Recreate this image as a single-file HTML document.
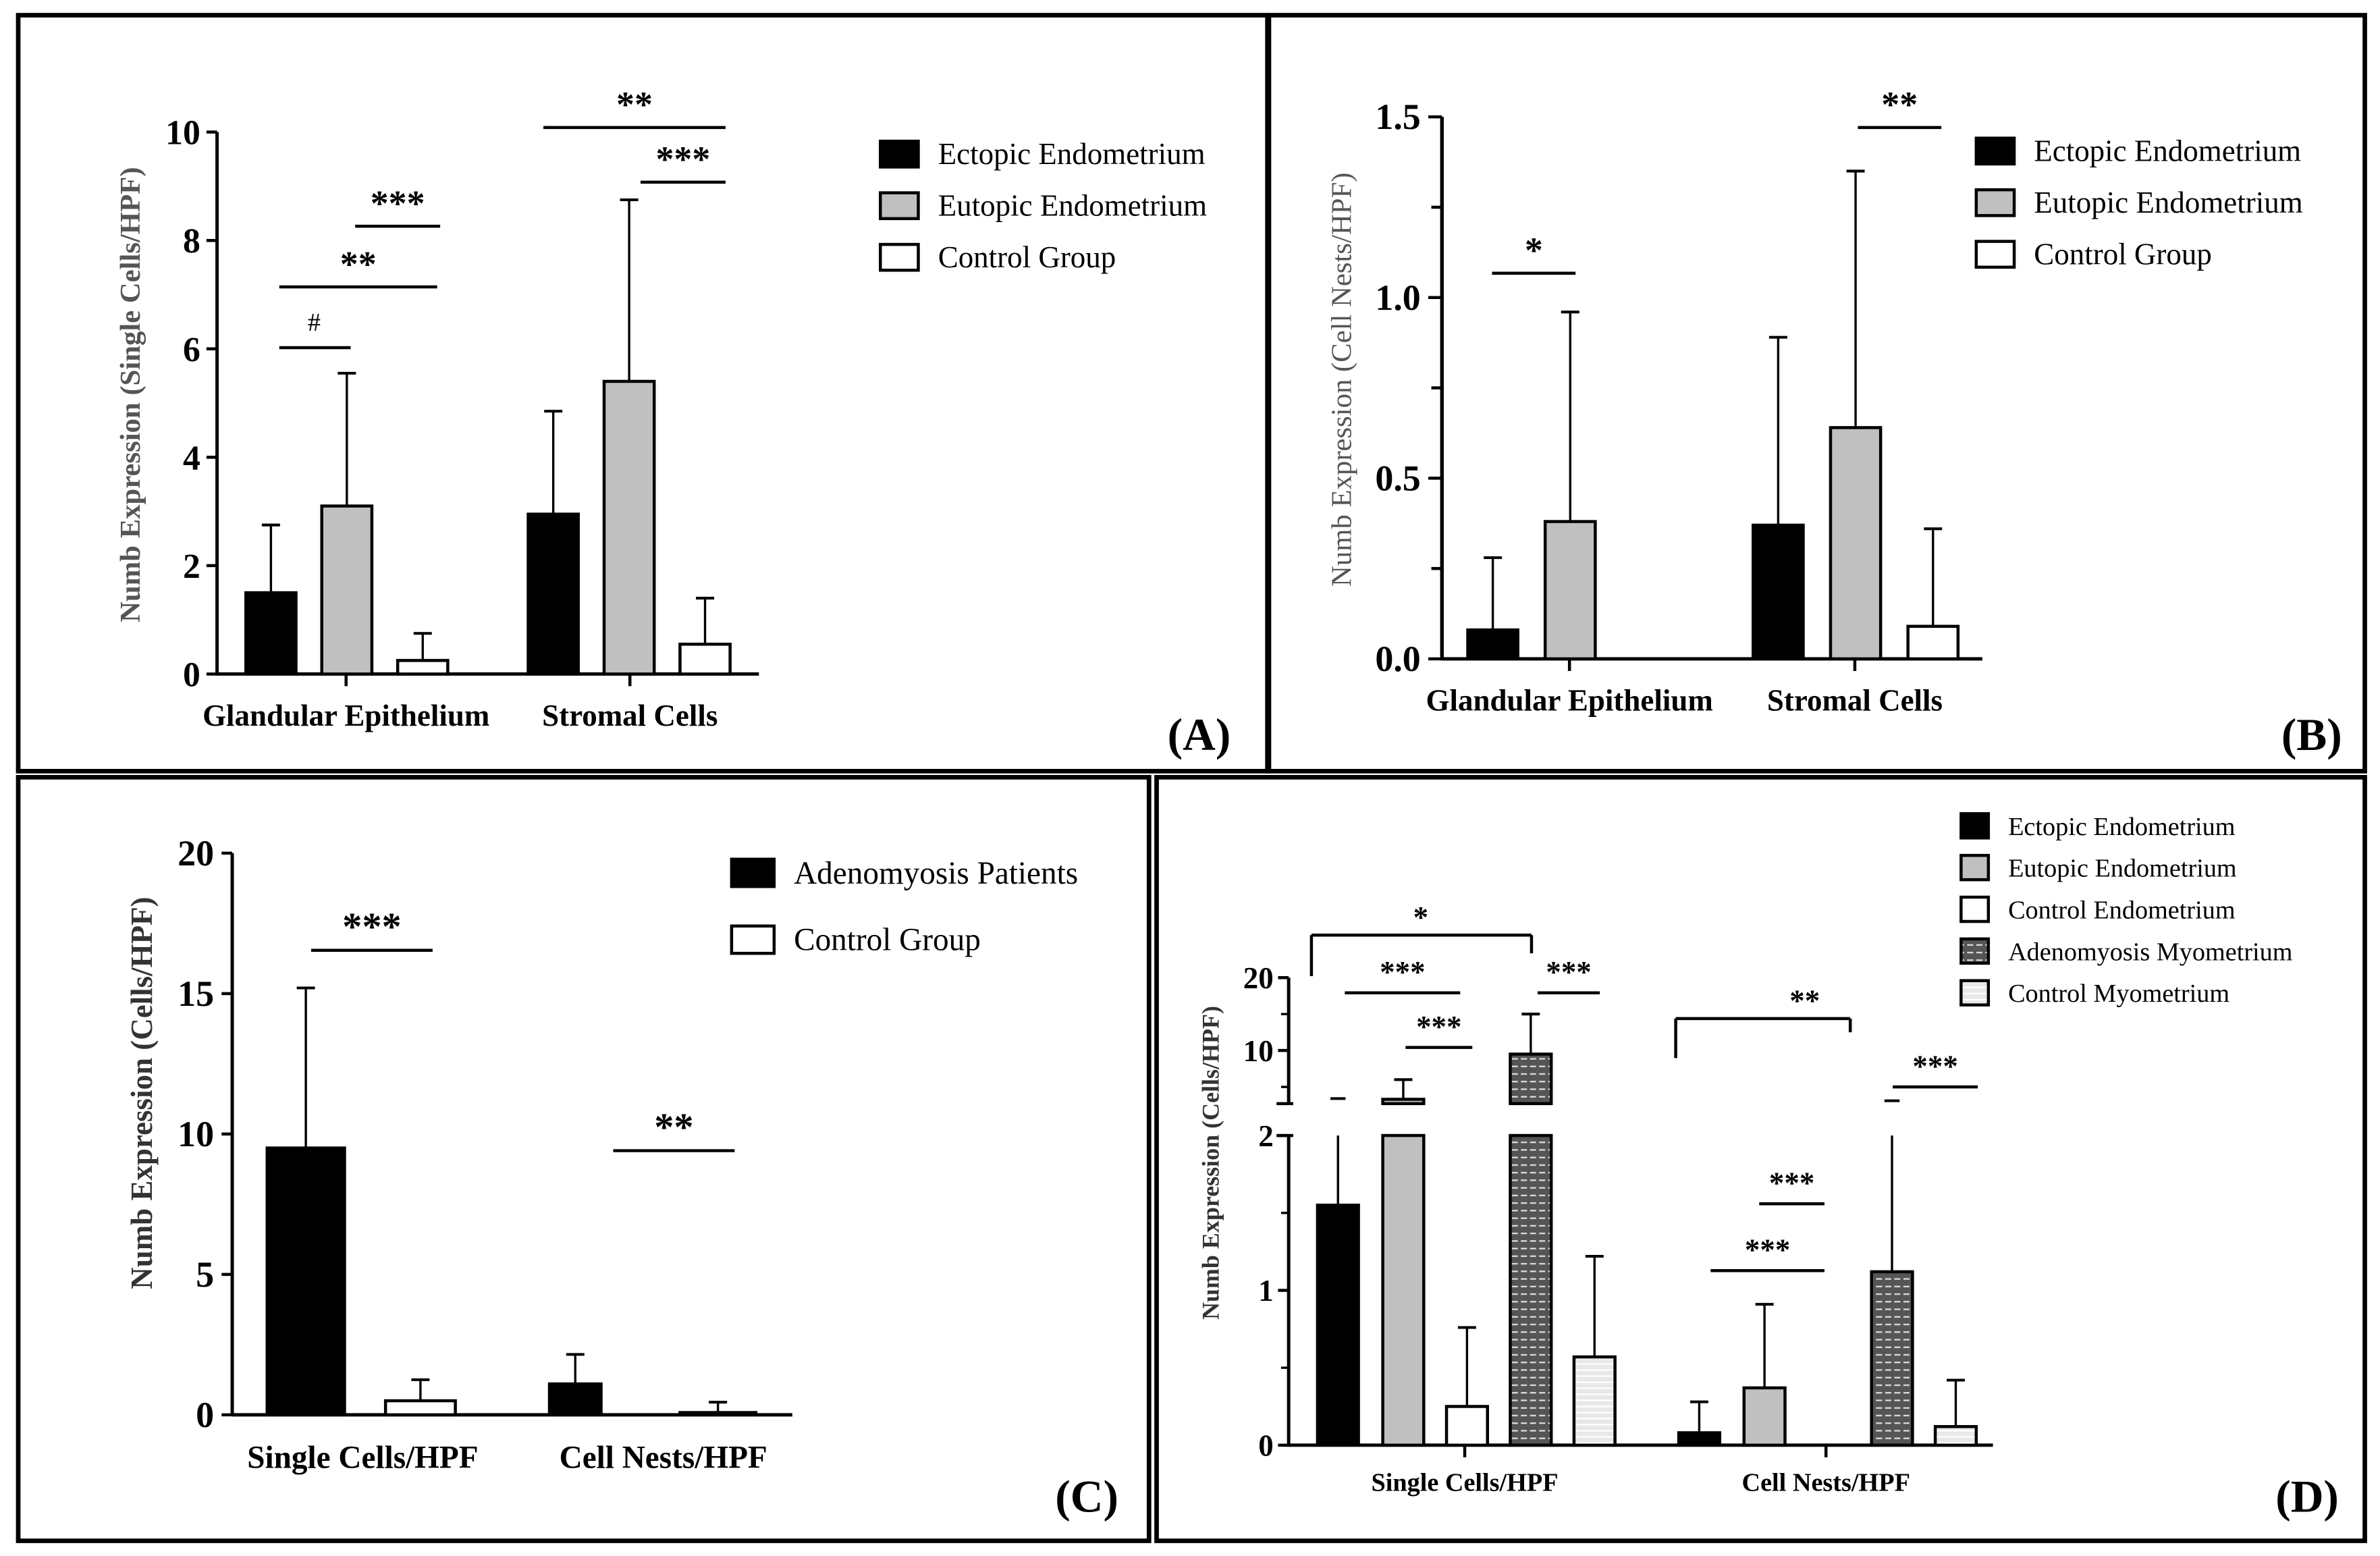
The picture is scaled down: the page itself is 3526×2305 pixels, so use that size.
<!DOCTYPE html>
<html><head><meta charset="utf-8"><style>
html,body{margin:0;padding:0;background:#fff;}
svg{display:block;}
svg text{font-family:"Liberation Serif","DejaVu Serif",serif;}
</style></head><body>
<svg id="fig" width="3526" height="2305" viewBox="0 0 1568 1025" xmlns="http://www.w3.org/2000/svg">
<defs>
<pattern id="patAdeno" width="6" height="5" patternUnits="userSpaceOnUse"><rect width="6" height="5" fill="#555"/><rect x="0" y="2" width="4" height="1" fill="#ddd"/></pattern>
<pattern id="patCtrlMyo" width="6" height="4" patternUnits="userSpaceOnUse"><rect width="6" height="4" fill="#e8e8e8"/><rect x="0" y="2" width="6" height="1" fill="#fff"/></pattern>
</defs>
<g id="root"></g>
</svg>
<script>
// Panel A data
const catsA = ["Glandular Epithelium","Stromal Cells"];
const ectopicA = [1.5, 2.95];
const eutopicA = [3.1, 5.4];
const controlA = [0.25, 0.55];
const ectopicErrA = [2.75, 4.85];
const eutopicErrA = [5.55, 8.75];
const controlErrA = [0.75, 1.4];
const ticksA = [0,2,4,6,8,10];
// Panel B data
const catsB = ["Glandular Epithelium","Stromal Cells"];
const ectopicB = [0.08, 0.37];
const eutopicB = [0.38, 0.64];
const controlB = [0, 0.09];
const ectopicErrB = [0.28, 0.89];
const eutopicErrB = [0.96, 1.35];
const controlErrB = [0, 0.36];
const ticksB = ["0.0","0.5","1.0","1.5"];
// Panel C data
const catsC = ["Single Cells/HPF","Cell Nests/HPF"];
const adenoC = [9.5, 1.1];
const controlC = [0.5, 0.08];
const adenoErrC = [15.2, 2.15];
const controlErrC = [1.25, 0.45];
const ticksC = [0,5,10,15,20];
// Panel D data
const catsD = ["Single Cells/HPF","Cell Nests/HPF"];
const ectopicD = [1.55, 0.08];
const eutopicD = [3.3, 0.37];
const controlEndoD = [0.25, 0];
const adenoMyoD = [9.5, 1.12];
const controlMyoD = [0.57, 0.12];
const ectopicErrD = [3.4, 0.28];
const eutopicErrD = [6, 0.91];
const controlEndoErrD = [0.76, 0];
const adenoMyoErrD = [15, 3.1];
const controlMyoErrD = [1.22, 0.42];
const ticksDLow = [0,1,2];
const ticksDHigh = [10,20];

const NS = "http://www.w3.org/2000/svg";
const FONT = '"Liberation Serif", "DejaVu Serif", serif';
const root = document.getElementById("root");
function el(tag, attrs, parent, txt){
  const e = document.createElementNS(NS, tag);
  for (const k in attrs) e.setAttribute(k, attrs[k]);
  if (txt !== undefined) e.textContent = txt;
  (parent || root).appendChild(e);
  return e;
}
function line(x1,y1,x2,y2,w,name){
  const l = el("line",{x1,y1,x2,y2,stroke:"#000","stroke-width":w||1.6});
  
  
  return l;
}
function txt(x,y,s,size,opts){
  opts = opts||{};
  const t = el("text",{x,y,"font-size":size,"font-weight":opts.bold?"bold":"normal","text-anchor":opts.anchor||"start",fill:opts.fill||"#000"}, null, s);
  t.style.fontFamily = FONT;
  if (opts.rot) t.setAttribute("transform","rotate(-90 "+x+" "+y+")");
  
  
  return t;
}
function bar(x,w,yTop,yBase,fill,name){
  const r = el("rect",{x,y:Math.min(yTop,yBase),width:w,height:Math.abs(yBase-yTop),fill,stroke:"#000","stroke-width":2});
  
  
}
function err(cx,yTop,yEnd,name){
  line(cx,yTop,cx,yEnd,1.5,name);
  line(cx-6,yEnd,cx+6,yEnd,1.8,name+'-cap');
}
function sig(x1,x2,y,label,size){
  line(x1,y,x2,y,2,'significance-line');
  txt((x1+x2)/2,y-7,label,size||22,{bold:true,anchor:"middle",name:'significance-label'});
}
function legend(x,y0,dy,sw,sh,fills,names,size){
  fills.forEach((f,i)=>{
    const r = el("rect",{x,y:y0+i*dy,width:sw,height:sh,fill:f,stroke:"#000","stroke-width":2});
    
    
    txt(x+sw+13,y0+i*dy+sh-2,names[i],size,{name:'legend-entry'});
  });
}
function border(x,y,w,h,name){
  const r = el("rect",{x,y,width:w,height:h,fill:"none",stroke:"#000","stroke-width":3});
  
  
}

border(12,10,823,498,'panel-a-border');
border(836,10,722,498,'panel-b-border');
border(12,512,745,503,'panel-c-border');
border(762,512,796,503,'panel-d-border');

// ---------- Panel A ----------
(function(){
  const ax=143, y0=444, y1=87, vmax=10;
  const Y = v => y0 - (v/vmax)*(y0-y1);
  line(ax,Y(vmax),ax,y0+1,2.2,'y-axis-a');
  line(ax,y0,500,y0,2.2,'x-axis-a');
  ticksA.forEach(t=>{ line(ax-7,Y(t),ax,Y(t),2,'y-tick-a'); txt(ax-11,Y(t)+8,String(t),23,{bold:true,anchor:"end",name:'y-tick-label-a'}); });
  const starts=[162,348], off=[0,50,100], bw=33;
  const series=[[ectopicA,ectopicErrA,"#000"],[eutopicA,eutopicErrA,"#c0c0c0"],[controlA,controlErrA,"#fff"]];
  const centers=[228,415];
  catsA.forEach((c,i)=>{
    series.forEach((s,j)=>{
      const x=starts[i]+off[j];
      err(x+bw/2,Y(s[0][i]),Y(s[1][i]),'error-bar-a');
      bar(x,bw,Y(s[0][i]),y0,s[2],'bar-a');
    });
    line(centers[i],y0,centers[i],y0+8,2,'x-tick-a');
    txt(centers[i],478,c,20,{bold:true,anchor:"middle",name:'category-label-a'});
  });
  line(184,229,231,229,2,'significance-line'); txt(207,218,"#",17,{anchor:"middle",name:'significance-label'});
  sig(184,288,189,"**",24); sig(234,290,149,"***",24); sig(358,478,84,"**",24); sig(422,478,120,"***",24);
  txt(92,260,"Numb Expression (Single Cells/HPF)",19,{bold:true,anchor:"middle",rot:true,fill:"#555",name:'y-axis-title-a'});
  legend(580,93,34,25,17,["#000","#c0c0c0","#fff"],["Ectopic Endometrium","Eutopic Endometrium","Control Group"],20);
  txt(790,494,"(A)",30,{bold:true,anchor:"middle",name:'panel-label-a'});
})();

// ---------- Panel B ----------
(function(){
  const ax=950, y0=434, y1=77, vmax=1.5;
  const Y = v => y0 - (v/vmax)*(y0-y1);
  line(ax,Y(vmax),ax,y0+1,2.4,'y-axis-b');
  line(ax,y0,1306,y0,2.2,'x-axis-b');
  ticksB.forEach(t=>{ const v=parseFloat(t); line(ax-9,Y(v),ax,Y(v),2,'y-tick-b'); txt(ax-14,Y(v)+8,t,24,{bold:true,anchor:"end",name:'y-tick-label-b'}); });
  [0.25,0.75,1.25].forEach(v=>line(ax-7,Y(v),ax,Y(v),2,'y-minor-tick-b'));
  const starts=[967,1155], off=[0,51,102], bw=33;
  const series=[[ectopicB,ectopicErrB,"#000"],[eutopicB,eutopicErrB,"#c0c0c0"],[controlB,controlErrB,"#fff"]];
  const centers=[1034,1222];
  catsB.forEach((c,i)=>{
    series.forEach((s,j)=>{
      const x=starts[i]+off[j];
      if (s[1][i]>0) err(x+bw/2,Y(s[0][i]),Y(s[1][i]),'error-bar-b');
      if (s[0][i]>0) bar(x,bw,Y(s[0][i]),y0,s[2],'bar-b');
    });
    line(centers[i],y0,centers[i],y0+8,2,'x-tick-b');
    txt(centers[i],468,c,20,{bold:true,anchor:"middle",name:'category-label-b'});
  });
  sig(983,1038,180,"*",24); sig(1224,1279,84,"**",24);
  txt(890,250,"Numb Expression (Cell Nests/HPF)",19,{anchor:"middle",rot:true,fill:"#555",name:'y-axis-title-b'});
  legend(1302,91,34,25,17,["#000","#c0c0c0","#fff"],["Ectopic Endometrium","Eutopic Endometrium","Control Group"],20);
  txt(1523,494,"(B)",30,{bold:true,anchor:"middle",name:'panel-label-b'});
})();

// ---------- Panel C ----------
(function(){
  const ax=153, y0=932, y1=562, vmax=20;
  const Y = v => y0 - (v/vmax)*(y0-y1);
  line(ax,Y(vmax),ax,y0+1,2.2,'y-axis-c');
  line(ax,y0,522,y0,2.2,'x-axis-c');
  ticksC.forEach(t=>{ line(ax-7,Y(t),ax,Y(t),2,'y-tick-c'); txt(ax-12,Y(t)+8,String(t),24,{bold:true,anchor:"end",name:'y-tick-label-c'}); });
  const xs=[[176,254],[362,448]], bws=[[51,46],[34,50]];
  const series=[[adenoC,adenoErrC,"#000"],[controlC,controlErrC,"#fff"]];
  catsC.forEach((c,i)=>{
    series.forEach((s,j)=>{
      const x=xs[i][j], bw=bws[i][j];
      err(x+bw/2,Y(s[0][i]),Y(s[1][i]),'error-bar-c');
      bar(x,bw,Y(s[0][i]),y0,s[2],'bar-c');
    });
    const cx=[239,437][i];
    txt(cx,967,c,21,{bold:true,anchor:"middle",name:'category-label-c'});
  });
  sig(205,285,626,"***",26); sig(404,484,758,"**",26);
  txt(100,720,"Numb Expression (Cells/HPF)",20,{bold:true,anchor:"middle",rot:true,fill:"#333",name:'y-axis-title-c'});
  legend(482,566,44,28,18,["#000","#fff"],["Adenomyosis Patients","Control Group"],21);
  txt(716,996,"(C)",30,{bold:true,anchor:"middle",name:'panel-label-c'});
})();

// ---------- Panel D ----------
(function(){
  const ax=849, y0=952, brk=727;
  const Y = v => v<=2 ? y0 - v*102 : 692 - (v-10)*4.8;
  line(ax,Y(2),ax,y0+1,2.2,'y-axis-d-low');
  line(ax,Y(20),ax,brk,2.2,'y-axis-d-high');
  line(ax-8,brk,ax+3,brk,2,'axis-break');
  line(ax-8,Y(2),ax+3,Y(2),2,'axis-break');
  line(ax,y0,1313,y0,2.2,'x-axis-d');
  ticksDLow.forEach(t=>{ line(ax-7,Y(t),ax,Y(t),2,'y-tick-d'); txt(ax-10,Y(t)+7,String(t),20,{bold:true,anchor:"end",name:'y-tick-label-d'}); });
  ticksDHigh.forEach(t=>{ line(ax-7,Y(t),ax,Y(t),2,'y-tick-d'); txt(ax-10,Y(t)+7,String(t),20,{bold:true,anchor:"end",name:'y-tick-label-d'}); });
  [5,15].forEach(t=>line(ax-5,Y(t),ax,Y(t),1.5,'y-minor-tick-d'));
  [0.5,1.5].forEach(t=>line(ax-5,Y(t),ax,Y(t),1.5,'y-minor-tick-d'));
  const D = v => v<=2 ? Y(v) : (v<3 ? brk : Y(v));
  const starts=[868,1106], off=[0,43,85,127,169], bw=27;
  const series=[[ectopicD,ectopicErrD,"#000"],[eutopicD,eutopicErrD,"#c0c0c0"],[controlEndoD,controlEndoErrD,"#fff"],[adenoMyoD,adenoMyoErrD,"url(#patAdeno)"],[controlMyoD,controlMyoErrD,"url(#patCtrlMyo)"]];
  catsD.forEach((c,i)=>{
    series.forEach((s,j)=>{
      const x=starts[i]+off[j], v=s[0][i], e=s[1][i];
      if (e>0){
        if (e>2 && v<=2){ line(x+bw/2,Y(v),x+bw/2,Y(2),1.5,'error-bar-d'); line(x+bw/2-5,D(e),x+bw/2+5,D(e),1.8,'error-bar-d-cap'); }
        else err(x+bw/2,D(v),D(e),'error-bar-d');
      }
      if (v>0){
        if (v>2){ bar(x,bw,Y(2),y0,s[2],'bar-d'); bar(x,bw,D(v),brk,s[2],'bar-d-upper'); }
        else bar(x,bw,Y(v),y0,s[2],'bar-d');
      }
    });
    const cx=[965,1203][i];
    line(cx,y0,cx,y0+8,2,'x-tick-d');
    txt(cx,982,c,17,{bold:true,anchor:"middle",name:'category-label-d'});
  });
  line(864,616,1009,616,2,'significance-bracket'); line(864,616,864,643,2,'significance-bracket'); line(1009,616,1009,628,2,'significance-bracket');
  txt(936,611,"*",20,{bold:true,anchor:"middle",name:'significance-label'});
  line(1104,671,1219,671,2,'significance-bracket'); line(1104,671,1104,697,2,'significance-bracket'); line(1219,671,1219,680,2,'significance-bracket');
  txt(1189,666,"**",20,{bold:true,anchor:"middle",name:'significance-label'});
  sig(886,962,654,"***",20); sig(1013,1054,654,"***",20); sig(926,970,690,"***",20);
  sig(1247,1303,716,"***",20); sig(1159,1202,793,"***",20); sig(1127,1202,837,"***",20);
  txt(803,766,"Numb Expression (Cells/HPF)",16,{bold:true,anchor:"middle",rot:true,fill:"#333",name:'y-axis-title-d'});
  legend(1292,536,27.5,18,16,["#000","#c0c0c0","#fff","url(#patAdeno)","url(#patCtrlMyo)"],["Ectopic Endometrium","Eutopic Endometrium","Control Endometrium","Adenomyosis Myometrium","Control Myometrium"],17);
  txt(1520,996,"(D)",30,{bold:true,anchor:"middle",name:'panel-label-d'});
})();
</script>
</body></html>
